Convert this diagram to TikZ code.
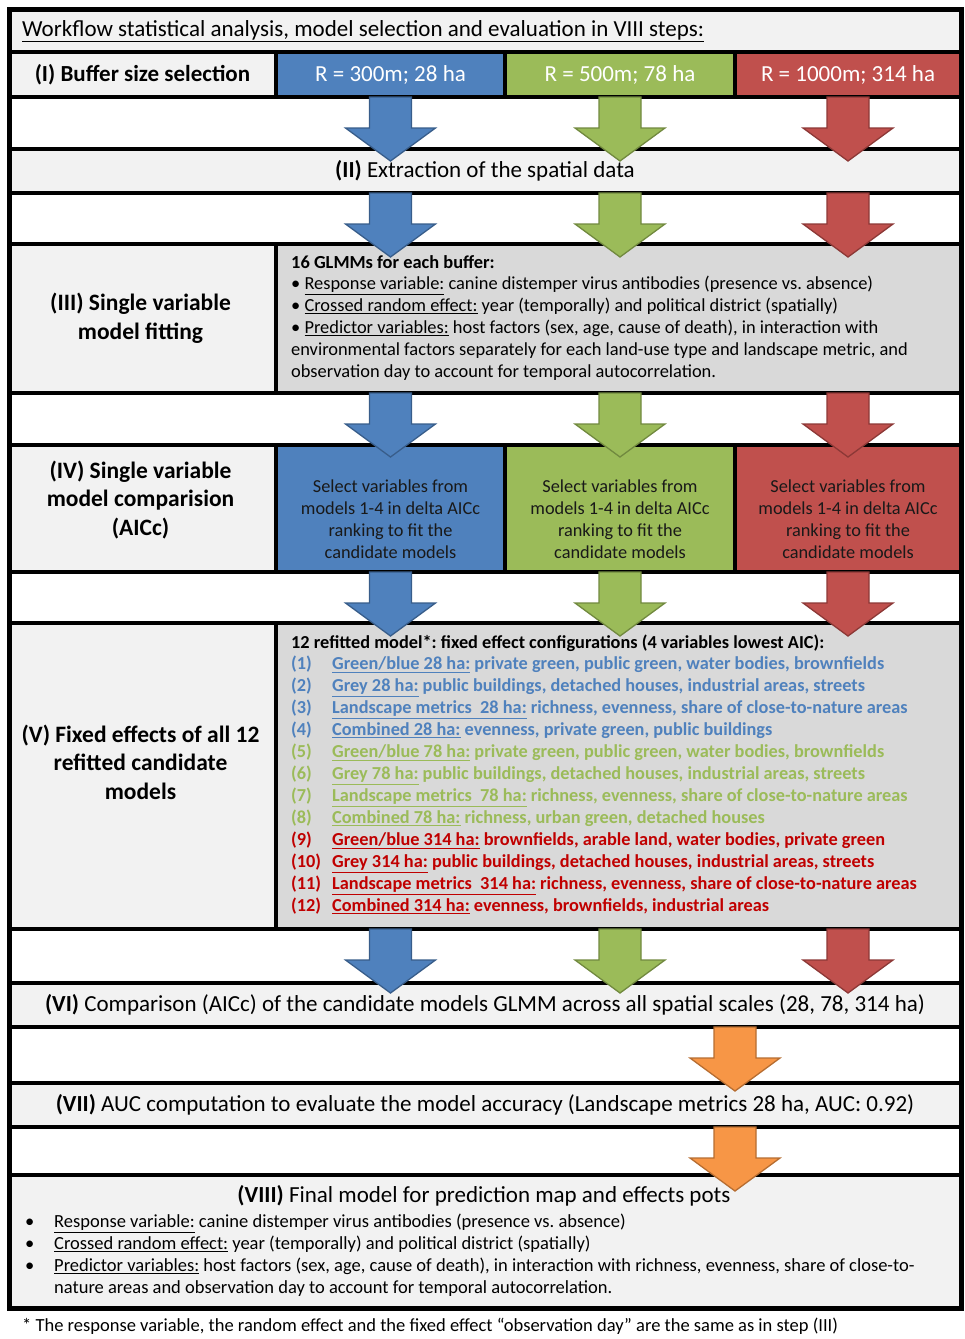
\documentclass[tikz,border=0pt]{standalone}
\usepackage{fontspec}
\setmainfont{Carlito}
\usepackage{xcolor}
\usetikzlibrary{calc}
\frenchspacing
\definecolor{cellLight}{HTML}{F2F2F2}
\definecolor{cellGrey}{HTML}{D9D9D9}
\definecolor{cBlue}{HTML}{4F81BD}
\definecolor{cGreen}{HTML}{9BBB59}
\definecolor{cRed}{HTML}{C0504D}
\definecolor{cOrange}{HTML}{F79646}
\definecolor{eBlue}{HTML}{385D8A}
\definecolor{eGreen}{HTML}{71893F}
\definecolor{eRed}{HTML}{8C3836}
\definecolor{eOrange}{HTML}{B66D31}
\definecolor{tBlue}{HTML}{4F81BD}
\definecolor{tGreen}{HTML}{9BBB59}
\definecolor{tRed}{HTML}{C00000}
\tikzset{
  tcell/.style    = {draw=black, line width=4pt, inner sep=0pt, anchor=north west, align=center,
                     font=\fontsize{23}{27}\selectfont},
  litecell/.style = {tcell, fill=cellLight},
  greycell/.style = {tcell, fill=cellGrey},
  bluecell/.style = {tcell, fill=cBlue},
  grncell/.style  = {tcell, fill=cGreen},
  redcell/.style  = {tcell, fill=cRed},
  hd/.style       = {font=\fontsize{23.5}{28.5}\selectfont\bfseries, align=center, inner sep=0pt},
  sel/.style      = {font=\fontsize{18.3}{22}\selectfont, align=center, text=black!90, inner sep=0pt},
  body/.style     = {font=\fontsize{18.4}{21.8}\selectfont, align=left, inner sep=0pt, anchor=north west},
  fxlist/.style   = {font=\fontsize{18.3}{22}\selectfont\bfseries, inner sep=0pt, anchor=north west},
  barrow/.style   = {line width=1.3pt, line join=miter},
  frame/.style    = {draw=black, line width=4.5pt, inner sep=0pt, anchor=north west},
}
% block arrow hanging below an anchor
\newcommand{\blockarrow}[2]{%
  \draw[barrow, #1] ($(#2)+(-21,-2)$) -- ($(#2)+(-21,29)$) -- ($(#2)+(-45,29)$) -- ($(#2)+(0,62)$)
    -- ($(#2)+(45,29)$) -- ($(#2)+(21,29)$) -- ($(#2)+(21,-2)$) -- cycle;}

\begin{document}
\begin{tikzpicture}[x=1pt, y=-1pt]
  \useasboundingbox (0,0) rectangle (965,1339);

  % title row
  \node[litecell, minimum width=952, minimum height=43] (head) at (7,7) {};
  \node[font=\fontsize{23}{27}\selectfont, anchor=base west, inner sep=0pt] (title) at (22,36)
       {\underline{Workflow statistical analysis, model selection and evaluation in VIII steps:}};

  % (I)
  \node[litecell, minimum width=267, minimum height=45] (bufsel) at (7,50) {\bfseries (I) Buffer size selection};
  \node[bluecell, text=white, minimum width=229, minimum height=45] (buf300) at (274,50) {R = 300m; 28 ha};
  \node[grncell, text=white, minimum width=230, minimum height=45] (buf500) at (503,50) {R = 500m; 78 ha};
  \node[redcell, text=white, minimum width=226, minimum height=45] (buf1000) at (733,50) {R = 1000m; 314 ha};

  % (II)
  \node[litecell, minimum width=952, minimum height=44] (extract) at (7,147) {\textbf{(II)} Extraction of the spatial data};

  % (III)
  \node[litecell, minimum width=267, minimum height=149] (fitlbl) at (7,242) {};
  \node[hd] (fittxt) at (140.5,318.5) {(III) Single variable\\model fitting};
  \node[greycell, minimum width=685, minimum height=149] (glmm) at (274,242) {};
  \node[body] (glmmtxt) at (291,255)
       {\textbf{16 GLMMs for each buffer:}\\
        • \underline{Response variable:} canine distemper virus antibodies (presence vs. absence)\\
        • \underline{Crossed random effect:} year (temporally) and political district (spatially)\\
        • \underline{Predictor variables:} host factors (sex, age, cause of death), in interaction with\\
        environmental factors separately for each land-use type and landscape metric, and\\
        observation day to account for temporal autocorrelation.};

  % (IV)
  \node[litecell, minimum width=267, minimum height=127] (cmplbl) at (7,443) {};
  \node[hd] (cmptxt) at (140.5,500) {(IV) Single variable\\model comparision\\(AICc)};
  \node[bluecell, minimum width=229, minimum height=127] (sel300) at (274,443) {};
  \node[grncell, minimum width=230, minimum height=127] (sel500) at (503,443) {};
  \node[redcell, minimum width=226, minimum height=127] (sel1000) at (733,443) {};
  \foreach \c in {300,500,1000}
    \node[sel] (sel\c txt) at ($(sel\c.center)+(0,10.5)$)
         {Select variables from\\models 1-4 in delta AICc\\ranking to fit the\\candidate models};

  % (V)
  \node[litecell, minimum width=267, minimum height=306] (fixlbl) at (7,621) {};
  \node[hd] (fixtxt) at (140.5,762) {(V) Fixed effects of all 12\\refitted candidate\\models};
  \node[greycell, minimum width=685, minimum height=306] (refit) at (274,621) {};
  \node[font=\fontsize{18.3}{22}\selectfont\bfseries, anchor=west, inner sep=0pt] (refithd) at (291,643)
       {12 refitted model*: fixed effect configurations (4 variables lowest AIC):};
  \node[fxlist] (refitlist) at (291,654)
       {\begin{tabular}{@{}p{41pt}@{}l@{}}
        \textcolor{tBlue}{(1)} & \textcolor{tBlue}{\underline{Green/blue 28 ha:} private green, public green, water bodies, brownfields}\\
        \textcolor{tBlue}{(2)} & \textcolor{tBlue}{\underline{Grey 28 ha:} public buildings, detached houses, industrial areas, streets}\\
        \textcolor{tBlue}{(3)} & \textcolor{tBlue}{\underline{Landscape metrics\ \ 28 ha:} richness, evenness, share of close-to-nature areas}\\
        \textcolor{tBlue}{(4)} & \textcolor{tBlue}{\underline{Combined 28 ha:} evenness, private green, public buildings}\\
        \textcolor{tGreen}{(5)} & \textcolor{tGreen}{\underline{Green/blue 78 ha:} private green, public green, water bodies, brownfields}\\
        \textcolor{tGreen}{(6)} & \textcolor{tGreen}{\underline{Grey 78 ha:} public buildings, detached houses, industrial areas, streets}\\
        \textcolor{tGreen}{(7)} & \textcolor{tGreen}{\underline{Landscape metrics\ \ 78 ha:} richness, evenness, share of close-to-nature areas}\\
        \textcolor{tGreen}{(8)} & \textcolor{tGreen}{\underline{Combined 78 ha:} richness, urban green, detached houses}\\
        \textcolor{tRed}{(9)} & \textcolor{tRed}{\underline{Green/blue 314 ha:} brownfields, arable land, water bodies, private green}\\
        \textcolor{tRed}{(10)} & \textcolor{tRed}{\underline{Grey 314 ha:} public buildings, detached houses, industrial areas, streets}\\
        \textcolor{tRed}{(11)} & \textcolor{tRed}{\underline{Landscape metrics\ \ 314 ha:} richness, evenness, share of close-to-nature areas}\\
        \textcolor{tRed}{(12)} & \textcolor{tRed}{\underline{Combined 314 ha:} evenness, brownfields, industrial areas}
        \end{tabular}};

  % (VI) - (VIII)
  \node[litecell, minimum width=952, minimum height=44] (compare) at (7,981)
       {\textbf{(VI)} Comparison (AICc) of the candidate models GLMM across all spatial scales (28, 78, 314 ha)};
  \node[litecell, minimum width=952, minimum height=44] (auc) at (7,1081)
       {\textbf{(VII)} AUC computation to evaluate the model accuracy (Landscape metrics 28 ha, AUC: 0.92)};
  \node[litecell, minimum width=952, minimum height=133] (final) at (7,1173) {};
  \node[font=\fontsize{23}{27}\selectfont, inner sep=0pt] (finaltxt) at (484,1196)
       {\textbf{(VIII)} Final model for prediction map and effects pots};
  \node[font=\fontsize{18.5}{22}\selectfont, inner sep=0pt, anchor=north west] (finallist) at (25,1212)
       {\begin{tabular}{@{}p{29pt}@{}l@{}}
        • & \underline{Response variable:} canine distemper virus antibodies (presence vs. absence)\\
        • & \underline{Crossed random effect:} year (temporally) and political district (spatially)\\
        • & \underline{Predictor variables:} host factors (sex, age, cause of death), in interaction with richness, evenness, share of close-to-\\
          & nature areas and observation day to account for temporal autocorrelation.
        \end{tabular}};

  \node[font=\fontsize{18.5}{22}\selectfont, anchor=west, inner sep=0pt] (foot) at (22,1326)
       {* The response variable, the random effect and the fixed effect “observation day” are the same as in step (III)};

  % arrows
  \foreach \c/\fc/\ec in {300/cBlue/eBlue, 500/cGreen/eGreen, 1000/cRed/eRed} {
    \blockarrow{fill=\fc, draw=\ec}{buf\c.south}
    \blockarrow{fill=\fc, draw=\ec}{buf\c.south |- extract.south}
    \blockarrow{fill=\fc, draw=\ec}{buf\c.south |- glmm.south}
    \blockarrow{fill=\fc, draw=\ec}{sel\c.south}
    \blockarrow{fill=\fc, draw=\ec}{sel\c.south |- refit.south}
  }
  \coordinate (best) at (735,0);
  \blockarrow{fill=cOrange, draw=eOrange}{best |- compare.south}
  \blockarrow{fill=cOrange, draw=eOrange}{best |- auc.south}

  \node[frame, minimum width=952, minimum height=1299] (border) at (7,7) {};
\end{tikzpicture}
\end{document}
